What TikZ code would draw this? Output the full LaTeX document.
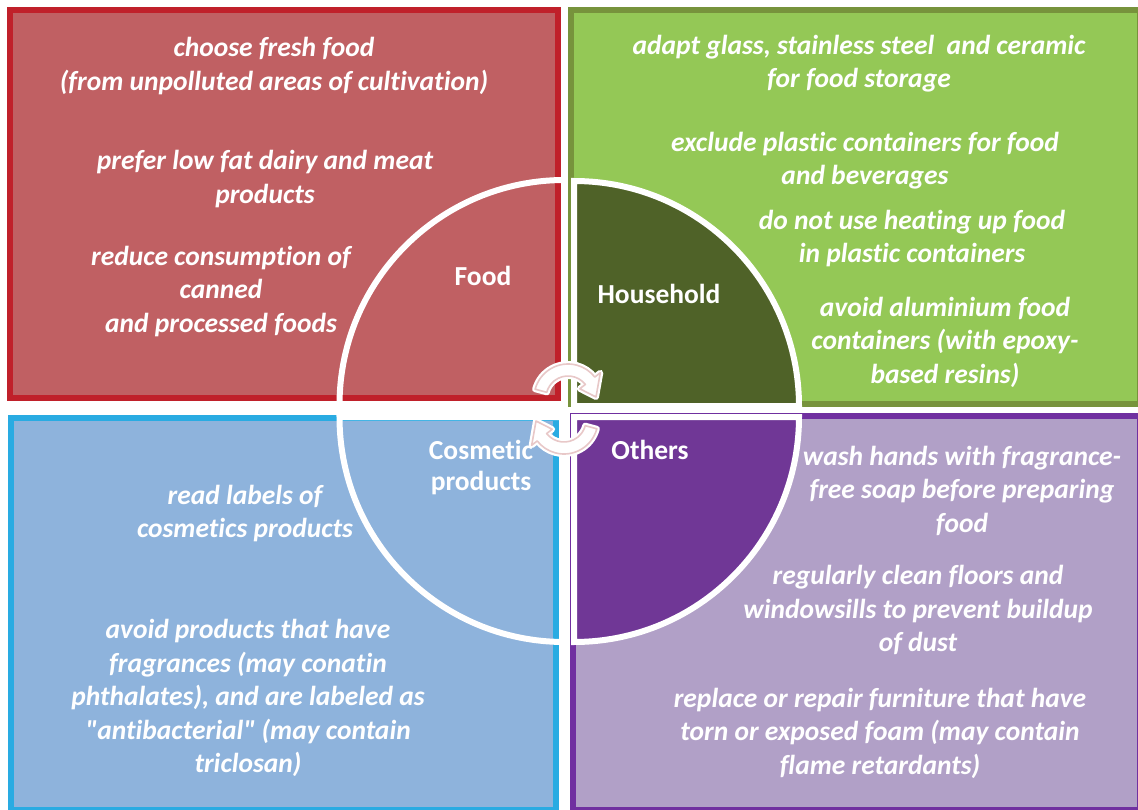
\documentclass[tikz,border=0pt]{standalone}
\usepackage{fontspec}
\newfontfamily\advfont{Carlito}[Ligatures=NoCommon]
\usetikzlibrary{calc}
\definecolor{redline}{RGB}{192,32,42}
\definecolor{redfill}{RGB}{192,96,99}
\definecolor{greenline}{RGB}{119,147,60}
\definecolor{greenfill}{RGB}{148,200,86}
\definecolor{greendark}{RGB}{79,98,40}
\definecolor{blueline}{RGB}{41,171,226}
\definecolor{bluefill}{RGB}{142,179,220}
\definecolor{purpleline}{RGB}{112,48,160}
\definecolor{purplefill}{RGB}{177,160,199}
\definecolor{purpledark}{RGB}{112,55,150}
\definecolor{cyclepink}{RGB}{232,200,200}
\tikzset{
  panel/.style={line width=6pt},
  sector/.style={draw=white, line width=6pt, line join=miter},
  tip/.style={text=white, align=center, inner sep=0pt, yshift=-2pt,
    font=\advfont\fontsize{27.5}{33.5}\selectfont\bfseries\itshape},
  topic/.style={text=white, align=center, inner sep=0pt,
    font=\advfont\fontsize{27.5}{31}\selectfont\bfseries},
  cyclearrow/.style={fill=white, draw=white, line width=6pt, line join=round,
    postaction={draw=cyclepink, line width=1.6pt}}
}
\begin{document}
\begin{tikzpicture}[x=1pt,y=-1pt]
\useasboundingbox (0,0) rectangle (1138,810);

% four panels
\draw[panel, draw=redline, fill=redfill] (10,10) rectangle (558,398);
\draw[panel, draw=greenline, fill=greenfill] (571,10) rectangle (1140,404);
\draw[panel, draw=blueline, fill=bluefill] (11,418) rectangle (556,810);
\draw[panel, draw=purpleline, fill=purplefill] (573,416) rectangle (1140,810);

% quarter sectors of the central circle
\coordinate (cf) at (564.5,405);
\coordinate (ch) at (574,406);
\coordinate (co) at (574,417);
\coordinate (cc) at (564.5,417);
\draw[sector] (cf) -- ++(180:225) arc[start angle=180, end angle=270, radius=225] -- cycle;
\draw[sector, fill=greendark] (ch) -- ++(270:225) arc[start angle=270, end angle=360, radius=225] -- cycle;
\draw[sector, fill=purpledark] (co) -- ++(0:225) arc[start angle=0, end angle=90, radius=225] -- cycle;
\draw[sector] (cc) -- ++(90:225) arc[start angle=90, end angle=180, radius=225] -- cycle;

% topic labels
\node[topic] (food) at (483,276) {Food};
\node[topic] (household) at (659,294) {Household};
\node[topic] (cosmetic) at (481,467.5) {Cosmetic\\products};
\node[topic] (others) at (650,450) {Others};

% food advice
\node[tip] (f1) at (274,64) {choose fresh food\\(from unpolluted areas of cultivation)};
\node[tip] (f2) at (265,177) {prefer low fat dairy and meat\\products};
\node[tip] (f3) at (221,289.5) {reduce consumption of\\canned\\and processed foods};

% household advice
\node[tip] (h1) at (859,61.5) {adapt glass, stainless steel \ and ceramic\\for food storage};
\node[tip] (h2) at (865,158.5) {exclude plastic containers for food\\and beverages};
\node[tip] (h3) at (912,236.5) {do not use heating up food\\in plastic containers};
\node[tip] (h4) at (945,340) {avoid aluminium food\\containers (with epoxy-\\based resins)};

% cosmetic advice
\node[tip] (c1) at (245,511.5) {read labels of\\cosmetics products};
\node[tip] (c2) at (248,696) {avoid products that have\\fragrances (may conatin\\phthalates), and are labeled as\\"antibacterial" (may contain\\triclosan)};

% other advice
\node[tip] (o1) at (962,488.5) {wash hands with fragrance-\\free soap before preparing\\food};
\node[tip] (o2) at (918,608) {regularly clean floors and\\windowsills to prevent buildup\\of dust};
\node[tip] (o3) at (880,731) {replace or repair furniture that have\\torn or exposed foam (may contain\\flame retardants)};

% cycle arrows in the middle
\coordinate (ta) at (568,398);
\coordinate (ba) at (564,420);
\path[cyclearrow] ($(ta)+(195:34)$) arc[start angle=195, end angle=322, radius=34]
  -- ($(ta)+(322:41)$) -- ($(ta)+(358:28)$) -- ($(ta)+(322:15)$)
  -- ($(ta)+(322:22)$) arc[start angle=322, end angle=195, radius=22] -- cycle;
\path[cyclearrow] ($(ba)+(15:34)$) arc[start angle=15, end angle=142, radius=34]
  -- ($(ba)+(142:41)$) -- ($(ba)+(178:28)$) -- ($(ba)+(142:15)$)
  -- ($(ba)+(142:22)$) arc[start angle=142, end angle=15, radius=22] -- cycle;
\end{tikzpicture}
\end{document}
